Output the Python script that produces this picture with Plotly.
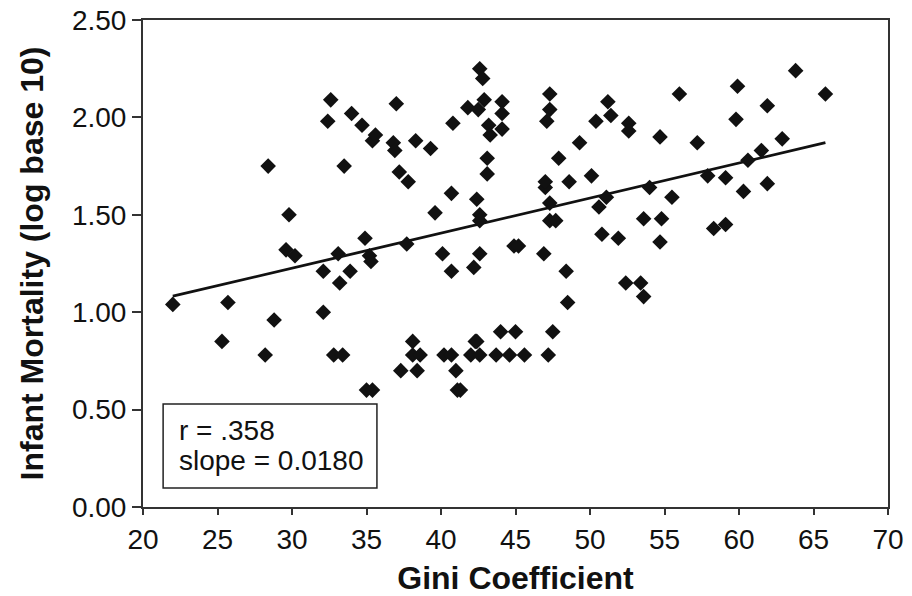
import plotly.graph_objects as go
import numpy as np

gini = [22.0, 25.3, 25.7, 28.2, 28.4, 28.8, 29.6, 29.8, 30.2, 32.1, 32.1, 32.4, 32.6, 32.8,
        33.1, 33.2, 33.4, 33.5, 33.9, 34.0, 34.7, 34.9, 35.0, 35.4, 35.2, 35.3, 35.4, 35.6,
        36.8, 36.9, 37.0, 37.2, 37.3, 37.7, 37.8, 38.1, 38.1, 38.3, 38.4, 38.6, 39.3, 39.6,
        40.1, 40.2, 40.7, 40.7, 40.7, 40.8, 41.0, 41.1, 41.3, 41.8, 42.0, 42.2, 42.3, 42.4,
        42.4, 42.5, 42.6, 42.6, 42.6, 42.6, 42.6, 42.8, 42.9, 43.1, 43.1, 43.2, 43.3, 43.7,
        44.0, 44.1, 44.1, 44.1, 44.6, 44.9, 45.0, 45.2, 45.6, 46.9, 47.0, 47.0, 47.1, 47.2,
        47.3, 47.3, 47.3, 47.3, 47.7, 47.5, 47.9, 48.4, 48.5, 48.6, 49.3, 50.1, 50.4, 50.6,
        50.8, 51.1, 51.2, 51.4, 51.9, 52.4, 52.6, 52.6, 53.4, 53.6, 53.6, 54.0, 54.7, 54.7,
        54.8, 55.5, 56.0, 57.2, 57.9, 58.3, 59.1, 59.1, 59.8, 59.9, 60.3, 60.6, 61.5, 61.9,
        61.9, 62.9, 63.8, 65.8]
mortality = [1.04, 0.85, 1.05, 0.78, 1.75, 0.96, 1.32, 1.50, 1.29, 1.00, 1.21, 1.98, 2.09, 0.78,
             1.30, 1.15, 0.78, 1.75, 1.21, 2.02, 1.96, 1.38, 0.60, 0.60, 1.29, 1.26, 1.88, 1.91,
             1.87, 1.83, 2.07, 1.72, 0.70, 1.35, 1.67, 0.78, 0.85, 1.88, 0.70, 0.78, 1.84, 1.51,
             1.30, 0.78, 1.21, 1.61, 0.78, 1.97, 0.70, 0.60, 0.60, 2.05, 0.78, 1.23, 0.85, 0.85,
             1.58, 2.04, 1.30, 1.50, 1.47, 0.78, 2.25, 2.20, 2.09, 1.79, 1.71, 1.96, 1.91, 0.78,
             0.90, 2.08, 2.02, 1.94, 0.78, 1.34, 0.90, 1.34, 0.78, 1.30, 1.64, 1.67, 1.98, 0.78,
             2.12, 2.04, 1.56, 1.47, 1.47, 0.90, 1.79, 1.21, 1.05, 1.67, 1.87, 1.70, 1.98, 1.54,
             1.40, 1.59, 2.08, 2.01, 1.38, 1.15, 1.97, 1.93, 1.15, 1.08, 1.48, 1.64, 1.90, 1.36,
             1.48, 1.59, 2.12, 1.87, 1.70, 1.43, 1.45, 1.69, 1.99, 2.16, 1.62, 1.78, 1.83, 2.06,
             1.66, 1.89, 2.24, 2.12]

slope = 0.0180
intercept = 0.686
r_text = "r = .358"
slope_text = "slope = 0.0180"

x_ticks = [20, 25, 30, 35, 40, 45, 50, 55, 60, 65, 70]
y_ticks = [0.0, 0.5, 1.0, 1.5, 2.0, 2.5]

line_x = np.array([min(gini), max(gini)])
line_y = intercept + slope * line_x

fig = go.Figure()
fig.add_trace(go.Scatter(x=line_x, y=line_y, mode="lines",
                         line=dict(color="#111111", width=2.8), showlegend=False,
                         hoverinfo="skip"))
fig.add_trace(go.Scatter(x=gini, y=mortality, mode="markers",
                         marker=dict(symbol="diamond", size=12, color="#111111"),
                         showlegend=False))

font_family = "Liberation Sans, Arial, sans-serif"

fig.update_layout(
    width=912, height=596,
    margin=dict(l=143, r=24, t=20, b=89),
    paper_bgcolor="white", plot_bgcolor="white",
    font=dict(family=font_family, color="#111111"),
    xaxis=dict(range=[20, 70], tickvals=x_ticks, ticktext=[str(v) for v in x_ticks],
               automargin=False,
               showgrid=False, zeroline=False, showline=True, linecolor="#333333",
               linewidth=2, mirror=True, ticks="outside", ticklen=6, tickwidth=2,
               tickcolor="#333333", tickfont=dict(size=28, color="#111111"),
               title=dict(text="<b>Gini Coefficient</b>", font=dict(size=32, color="#111111"),
                          standoff=16)),
    yaxis=dict(range=[0, 2.5], tickvals=y_ticks, ticktext=[f"{v:.2f}" for v in y_ticks],
               automargin=False,
               showgrid=False, zeroline=False, showline=True, linecolor="#333333",
               linewidth=2, mirror=True, ticks="outside", ticklen=9, tickwidth=2,
               tickcolor="#333333", tickfont=dict(size=28, color="#111111"),
               title=dict(text="<b>Infant Mortality (log base 10)</b>",
                          font=dict(size=32, color="#111111"), standoff=19)),
)

fig.add_shape(type="rect", xref="x", yref="y", x0=21.35, x1=35.7, y0=0.097, y1=0.529,
              line=dict(color="#222222", width=1.5), fillcolor="white", layer="below")
fig.add_annotation(x=22.3, y=0.395, xref="x", yref="y", text=r_text, showarrow=False,
                   xanchor="left", yanchor="middle", font=dict(size=28, color="#111111"))
fig.add_annotation(x=22.3, y=0.24, xref="x", yref="y", text=slope_text, showarrow=False,
                   xanchor="left", yanchor="middle", font=dict(size=28, color="#111111"))

fig.write_html("out.html", config={"displayModeBar": False},
               post_script="document.body.style.margin='0';")
